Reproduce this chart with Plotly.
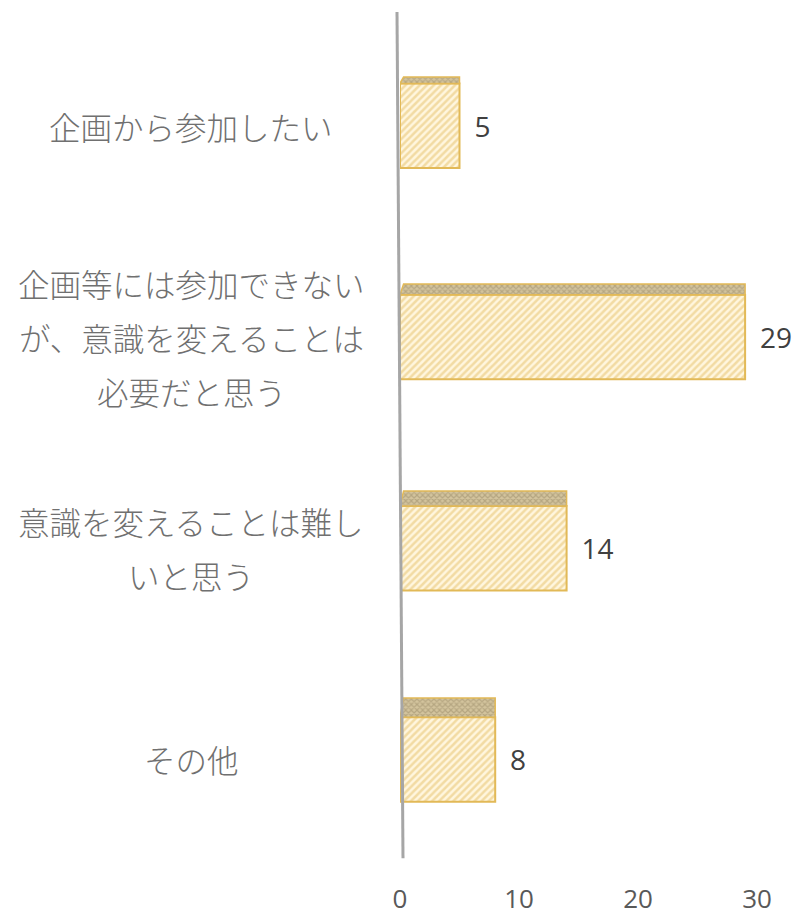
import plotly.graph_objects as go

categories = [
    "企画から参加したい",
    "企画等には参加できない|が、意識を変えることは|必要だと思う",
    "意識を変えることは難し|いと思う",
    "その他",
]
values = [5, 29, 14, 8]
x_ticks = [0, 10, 20, 30]

positions = list(range(len(categories)))
BAR_W = 0.4

fig = go.Figure()

# front faces
fig.add_trace(go.Bar(
    x=values, y=positions, orientation="h", width=BAR_W,
    marker=dict(
        color="#FFF4D6",
        line=dict(color="#E2B957", width=2),
        pattern=dict(shape="/", fgcolor="#E6C068", bgcolor="#FFF6DE", size=5, solidity=0.5),
    ),
    text=[f" \u2009{v}" for v in values], textposition="outside", cliponaxis=False,
    textfont=dict(family="Open Sans, Noto Sans", size=28, color="#404040"),
    showlegend=False, hoverinfo="skip",
))

# top faces (pseudo 3D), derived from the values
for i, v in enumerate(values):
    d = 0.03 + 0.02 * i
    y_front = i - BAR_W / 2
    y_back = y_front - d
    xs = [0, 0.3, v, v, 0]
    ys = [y_front, y_back, y_back, y_front, y_front]
    fig.add_trace(go.Scatter(
        x=xs, y=ys, mode="lines", fill="toself",
        line=dict(color="#E2B957", width=1.5),
        fillcolor="#BFAF88",
        fillpattern=dict(shape="x", fgcolor="#978766", bgcolor="#D3C49D", size=4, solidity=0.5),
        showlegend=False, hoverinfo="skip",
    ))

# category labels, one annotation per line
LINE_GAP = 54
for i, lab in enumerate(categories):
    lines = lab.split("|")
    n = len(lines)
    for k, ln in enumerate(lines):
        fig.add_annotation(
            x=-0.585, xref="paper", xanchor="center",
            y=positions[i], yref="y", yanchor="middle",
            yshift=-(k - (n - 1) / 2) * LINE_GAP,
            text=ln, showarrow=False,
            font=dict(family="Noto Sans CJK JP", size=31.5, color="#707070", weight=300),
        )

# slanted vertical axis line
fig.add_shape(type="line", xref="paper", yref="paper",
              x0=-0.0084, y0=1.0095, x1=0.0084, y1=0.008,
              line=dict(color="#A6A6A6", width=3))

fig.update_layout(
    width=795, height=915,
    margin=dict(l=400, r=38, t=20, b=50, autoexpand=False),
    paper_bgcolor="white", plot_bgcolor="white",
    bargap=0.6,
    xaxis=dict(range=[0, 30], tickvals=x_ticks, showgrid=False, zeroline=False,
               showline=False, ticks="", ticklabelstandoff=16, automargin=False,
               tickfont=dict(family="Open Sans, Noto Sans", size=26, color="#595959")),
    yaxis=dict(range=[3.5, -0.5], showgrid=False, zeroline=False, showline=False,
               showticklabels=False, ticks="", automargin=False),
)

fig.write_html("out.html", config={"displayModeBar": False},
               post_script="document.body.style.margin='0';document.body.style.overflow='hidden';")
